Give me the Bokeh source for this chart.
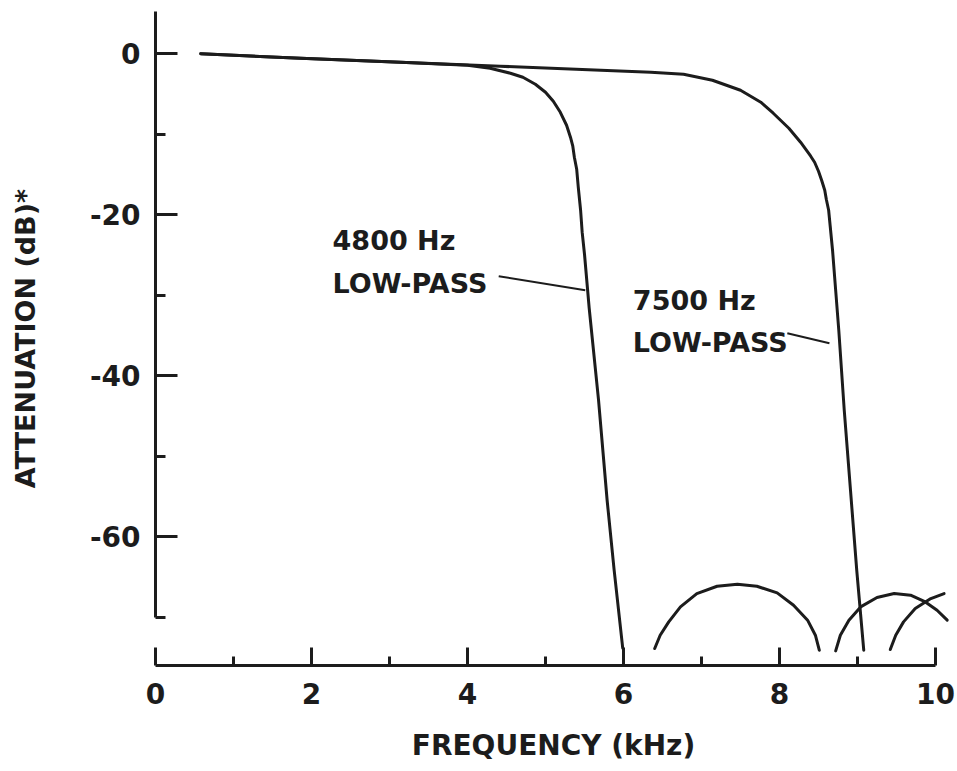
from bokeh.plotting import figure
from bokeh.models import FixedTicker, Label
from bokeh.embed import file_html
from bokeh.resources import INLINE

# ---- data (frequency in kHz, attenuation in dB) ----
freq_4800 = [0.58, 1.86, 3.14, 4.00, 4.29, 4.55, 4.71, 4.87, 5.00, 5.10, 5.19, 5.27, 5.32,
             5.35, 5.37, 5.40, 5.42, 5.45, 5.47, 5.50, 5.56, 5.68, 5.79, 5.88, 5.99]
atten_4800 = [0.0, -0.56, -1.06, -1.43, -1.80, -2.42, -2.92, -3.79, -4.78, -5.90, -7.27, -8.88, -10.37,
              -11.49, -12.86, -14.35, -16.58, -19.44, -22.17, -24.91, -31.61, -43.04, -55.47, -64.16, -73.85]

freq_7500 = [0.58, 1.86, 3.14, 4.42, 5.71, 6.35, 6.77, 7.14, 7.50, 7.76, 7.92, 8.12, 8.27, 8.40,
             8.45, 8.50, 8.54, 8.58, 8.60, 8.63, 8.65, 8.68, 8.72, 8.76, 8.83, 8.91, 8.99, 9.08]
atten_7500 = [0.0, -0.56, -1.06, -1.55, -2.05, -2.30, -2.55, -3.29, -4.53, -6.02, -7.39, -9.25, -10.99, -12.73,
              -13.48, -14.60, -15.71, -16.96, -18.07, -19.44, -21.43, -24.41, -29.38, -34.35, -44.29, -54.22, -64.16, -74.10]

# stop-band ripple lobes
lobe1_freq = [6.40, 6.47, 6.58, 6.73, 6.94, 7.20, 7.46, 7.71, 7.97, 8.18, 8.36, 8.46, 8.51]
lobe1_atten = [-73.89, -72.24, -70.58, -68.72, -67.06, -66.15, -65.90, -66.15, -66.98, -68.51, -70.37, -72.24, -74.10]
lobe2_freq = [8.72, 8.78, 8.89, 9.04, 9.25, 9.47, 9.68, 9.87, 10.02, 10.15]
lobe2_atten = [-74.19, -72.24, -70.37, -68.72, -67.55, -67.06, -67.27, -68.10, -69.13, -70.37]
lobe3_freq = [9.42, 9.49, 9.59, 9.74, 9.94, 10.11]
lobe3_atten = [-74.01, -72.24, -70.58, -68.92, -67.68, -67.06]

# leader lines from the labels to the curves
leader_4800_freq = [4.40, 5.51]
leader_4800_atten = [-27.64, -29.38]
leader_7500_freq = [8.10, 8.64]
leader_7500_atten = [-34.72, -35.96]

label_4800 = ["4800 Hz", "LOW-PASS"]
label_7500 = ["7500 Hz", "LOW-PASS"]

x_major = [0, 2, 4, 6, 8, 10]
x_minor = [1, 3, 5, 7, 9]
x_tick_labels = ["0", "2", "4", "6", "8", "10"]
y_major = [0, -20, -40, -60]
y_minor = [-10, -30, -50, -70]
y_tick_labels = ["0", "-20", "-40", "-60"]

INK = "#1c1c1c"
FONT = "DejaVu Sans"

p = figure(width=957, height=769, x_range=(0, 10.205), y_range=(-76, 5.25),
           output_backend="svg", toolbar_location=None,
           min_border_left=155, min_border_right=6, min_border_top=11, min_border_bottom=104)
p.outline_line_color = None
p.background_fill_color = "white"
p.border_fill_color = "white"
p.xgrid.visible = False
p.ygrid.visible = False

line_kw = dict(line_color=INK, line_width=3, line_cap="round", line_join="round")
p.line(freq_7500, atten_7500, **line_kw)
p.line(freq_4800, atten_4800, **line_kw)
p.line(lobe1_freq, lobe1_atten, **line_kw)
p.line(lobe2_freq, lobe2_atten, **line_kw)
p.line(lobe3_freq, lobe3_atten, **line_kw)
p.line(leader_4800_freq, leader_4800_atten, line_color=INK, line_width=2)
p.line(leader_7500_freq, leader_7500_atten, line_color=INK, line_width=2)

# axes
xa = p.xaxis[0]
xa.ticker = FixedTicker(ticks=x_major, minor_ticks=x_minor)
xa.major_label_overrides = {t: s for t, s in zip(x_major, x_tick_labels)}
xa.bounds = (0, 10)
xa.axis_label = "FREQUENCY (kHz)"

ya = p.yaxis[0]
ya.ticker = FixedTicker(ticks=y_major, minor_ticks=y_minor)
ya.major_label_overrides = {t: s for t, s in zip(y_major, y_tick_labels)}
ya.bounds = (-70, 5.25)
ya.axis_label = "ATTENUATION (dB)*"

for ax in (xa, ya):
    ax.axis_line_color = INK
    ax.axis_line_width = 3
    ax.major_tick_line_color = INK
    ax.minor_tick_line_color = INK
    ax.major_tick_line_width = 3
    ax.minor_tick_line_width = 3
    ax.major_tick_out = 0
    ax.minor_tick_out = 0
    ax.major_label_text_font = FONT
    ax.major_label_text_font_style = "bold"
    ax.major_label_text_font_size = "28px"
    ax.major_label_text_color = INK
    ax.axis_label_text_font = FONT
    ax.axis_label_text_font_style = "bold"
    ax.axis_label_text_color = INK

xa.major_tick_in = 18
xa.minor_tick_in = 9
xa.major_label_standoff = 17
xa.axis_label_text_font_size = "28px"
xa.axis_label_standoff = 22

ya.major_tick_in = 22
ya.minor_tick_in = 10
ya.major_label_standoff = 15
ya.axis_label_text_font_size = "27px"
ya.axis_label_standoff = 46

# annotations
lab_kw = dict(text_font=FONT, text_font_style="bold", text_font_size="27px",
              text_color=INK, text_align="left", text_baseline="alphabetic")
p.add_layout(Label(x=2.27, y=-23.17, text=label_4800[0], **lab_kw))
p.add_layout(Label(x=2.27, y=-28.51, text=label_4800[1], **lab_kw))
p.add_layout(Label(x=6.12, y=-30.62, text=label_7500[0], **lab_kw))
p.add_layout(Label(x=6.12, y=-35.84, text=label_7500[1], **lab_kw))

open("out.html", "w").write(file_html(p, INLINE))
